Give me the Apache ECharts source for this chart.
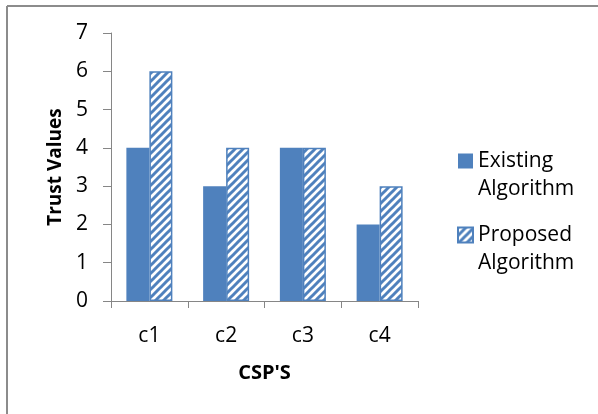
<!DOCTYPE html>
<html>
<head>
<meta charset="utf-8">
<script src="https://cdn.jsdelivr.net/npm/echarts@6/dist/echarts.min.js"></script>
<style>
  html, body { margin: 0; padding: 0; background: #fff; }
  #chart { width: 598px; height: 414px; }
</style>
</head>
<body>
<div id="chart"></div>
<script>
// Trust values per cloud service provider
const categories = ['c1', 'c2', 'c3', 'c4'];
const existingValues = [4, 3, 4, 2];
const proposedValues = [6, 4, 4, 3];
const seriesNames = ['Existing\nAlgorithm', 'Proposed\nAlgorithm'];

const BLUE = '#4f81bd';
const AXIS_GRAY = '#868686';
const FONT = '"Open Sans", "Noto Sans", sans-serif';

// Diagonal "/" hatch used for the proposed algorithm bars
function makeHatch() {
  const size = 8;
  const c = document.createElement('canvas');
  c.width = size; c.height = size;
  const g = c.getContext('2d');
  g.fillStyle = '#fff';
  g.fillRect(0, 0, size, size);
  g.strokeStyle = BLUE;
  g.lineWidth = 3;
  g.lineCap = 'square';
  [-size, 0, size].forEach(dx => {
    g.beginPath();
    g.moveTo(dx, size);
    g.lineTo(dx + size, 0);
    g.stroke();
  });
  return c;
}

// Legend swatch: a square sitting at the top of a taller (empty) box so the
// first line of a two-line label lines up with it.
const SWATCH = 'path://M0,0L15,0L15,15L0,15Z M0,43';

const chart = echarts.init(document.getElementById('chart'), null, { renderer: 'canvas' });

chart.setOption({
  animation: false,
  backgroundColor: '#fff',
  textStyle: { fontFamily: FONT },
  grid: { left: 111, right: 180, top: 33, bottom: 113 },
  graphic: [
    { type: 'line', shape: { x1: 7, y1: 6, x2: 598, y2: 6 }, style: { stroke: '#8c8c8c', lineWidth: 2 } },
    { type: 'line', shape: { x1: 7, y1: 6, x2: 7, y2: 414 }, style: { stroke: '#8c8c8c', lineWidth: 2 } }
  ],
  legend: {
    orient: 'vertical',
    left: 457,
    top: 147,
    padding: 0,
    icon: SWATCH,
    itemWidth: 15,
    itemHeight: 43,
    itemGap: 18,
    textStyle: { fontFamily: FONT, fontSize: 21, color: '#000', lineHeight: 28 },
    data: seriesNames
  },
  xAxis: {
    type: 'category',
    data: categories,
    name: "CSP'S",
    nameLocation: 'middle',
    nameGap: 62,
    nameTextStyle: { fontFamily: FONT, fontSize: 20, fontWeight: 'bold', color: '#000' },
    axisLine: { lineStyle: { color: AXIS_GRAY, width: 1 } },
    axisTick: { show: true, length: 7, lineStyle: { color: AXIS_GRAY } },
    axisLabel: { fontFamily: FONT, fontSize: 21, color: '#000', margin: 25 }
  },
  yAxis: {
    type: 'value',
    min: 0,
    max: 7,
    interval: 1,
    name: 'Trust Values',
    nameLocation: 'middle',
    nameGap: 46,
    nameTextStyle: { fontFamily: FONT, fontSize: 19, fontWeight: 'bold', color: '#000' },
    axisLine: { show: true, lineStyle: { color: AXIS_GRAY, width: 1 } },
    axisTick: { show: true, length: 8, lineStyle: { color: AXIS_GRAY } },
    splitLine: { show: false },
    axisLabel: { fontFamily: FONT, fontSize: 21, color: '#000', margin: 23 }
  },
  series: [
    {
      name: seriesNames[0],
      type: 'bar',
      data: existingValues,
      barWidth: 23,
      barGap: '0%',
      itemStyle: { color: BLUE }
    },
    {
      name: seriesNames[1],
      type: 'bar',
      data: proposedValues,
      barWidth: 23,
      itemStyle: {
        color: { image: makeHatch(), repeat: 'repeat' },
        borderColor: BLUE,
        borderWidth: 1.5
      }
    }
  ]
});
</script>
</body>
</html>
